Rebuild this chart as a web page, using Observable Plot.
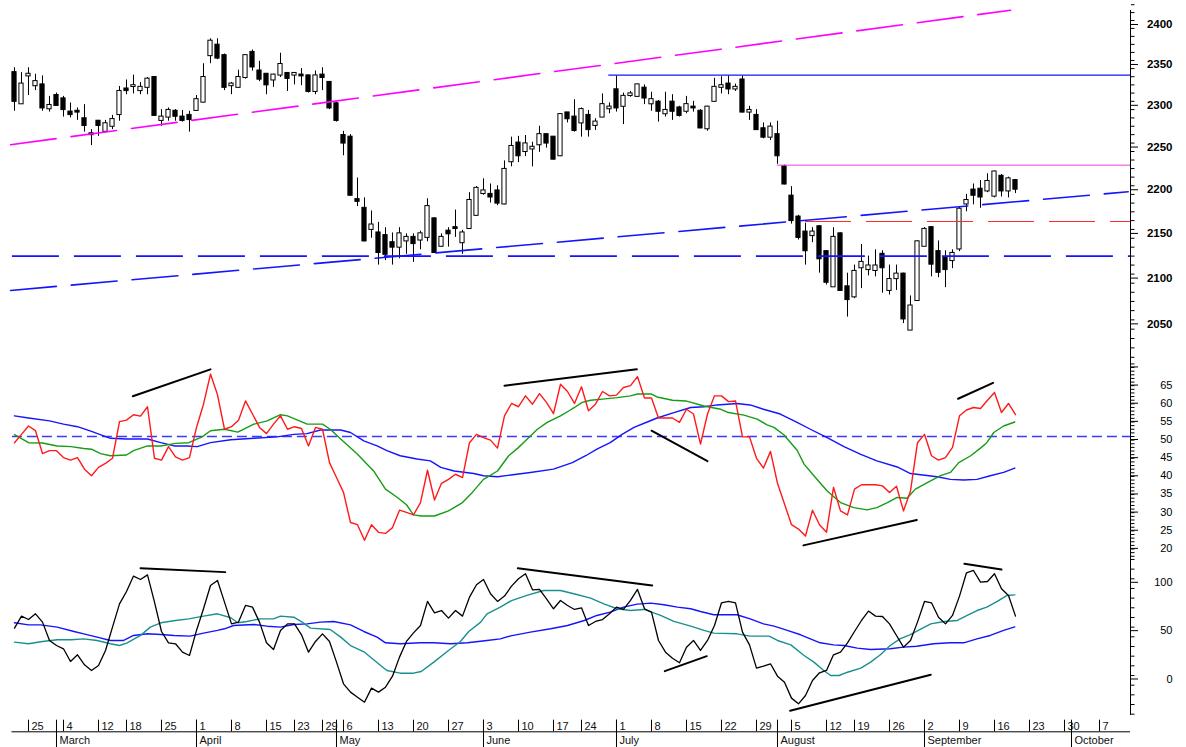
<!DOCTYPE html>
<html><head><meta charset="utf-8">
<script src="https://cdn.jsdelivr.net/npm/d3@7"></script>
<script src="https://cdn.jsdelivr.net/npm/@observablehq/plot@0.6"></script>
<style>
html,body{margin:0;padding:0;background:#fff;overflow:hidden}
#chart svg{display:block}
</style></head><body><div id="chart"></div>
<script>
// ---------- price data (trading-day index 0..143) ----------
const opens = [2335,2297,2331,2319,2320,2291,2307,2303,2287,2288,
2279,2261,2276,2264,2270,2284,2315,2318,2313,2317,
2329,2277,2281,2288,2281,2283,2289,2299,2356,2369,
2356,2319,2317,2329,2360,2337,2333,2326,2332,2334,
2332,2332,2331,2312,2332,2323,2297,2259,2257,2184,
2174,2150,2146,2143,2135,2130,2137,2141,2138,2141,
2162,2131,2148,2152,2135,2151,2166,2191,2190,2194,
2179,2228,2250,2240,2243,2248,2260,2257,2235,2286,
2281,2274,2283,2271,2281,2291,2314,2294,2307,2306,
2316,2297,2299,2285,2299,2292,2288,2293,2288,2267,
2300,2317,2321,2315,2326,2287,2283,2267,2257,2260,
2222,2188,2164,2147,2143,2153,2125,2086,2145,2086,
2075,2107,2105,2104,2122,2082,2095,2100,2039,2071,
2131,2152,2125,2118,2115,2128,2179,2195,2196,2194,
2188,2211,2194,2206];
const highs = [2341,2335,2341,2333,2331,2306,2310,2306,2298,2292,
2296,2266,2277,2277,2283,2318,2326,2332,2323,2329,
2330,2290,2292,2290,2289,2288,2307,2346,2377,2377,
2358,2323,2338,2356,2363,2349,2334,2333,2359,2335,
2335,2340,2332,2337,2341,2323,2299,2264,2260,2209,
2186,2171,2158,2152,2146,2152,2145,2145,2148,2185,
2163,2145,2152,2172,2149,2192,2199,2208,2202,2200,
2229,2257,2258,2259,2251,2270,2260,2257,2285,2286,
2302,2292,2289,2279,2309,2298,2331,2310,2312,2321,
2320,2311,2301,2311,2308,2294,2306,2300,2290,2294,
2328,2330,2331,2321,2331,2294,2290,2274,2274,2276,
2224,2199,2166,2157,2152,2154,2126,2152,2146,2101,
2110,2133,2120,2127,2126,2110,2110,2101,2076,2137,
2152,2153,2137,2126,2127,2176,2190,2202,2206,2214,
2217,2213,2210,2207];
const lows = [2288,2297,2307,2313,2288,2287,2294,2281,2280,2277,
2263,2247,2258,2262,2266,2276,2308,2309,2308,2308,
2282,2270,2276,2276,2275,2263,2288,2298,2346,2351,
2313,2308,2316,2327,2337,2324,2308,2317,2329,2312,
2320,2319,2310,2308,2313,2290,2275,2235,2188,2176,
2136,2140,2110,2115,2110,2117,2122,2113,2127,2136,
2123,2130,2130,2141,2122,2150,2165,2189,2180,2177,
2178,2222,2227,2234,2222,2239,2244,2230,2234,2274,
2263,2257,2257,2265,2281,2285,2287,2272,2305,2305,
2296,2288,2275,2281,2277,2281,2285,2287,2267,2264,
2299,2309,2308,2312,2286,2277,2265,2255,2253,2225,
2201,2156,2138,2110,2135,2101,2088,2086,2081,2053,
2073,2084,2098,2097,2079,2077,2082,2046,2039,2070,
2131,2097,2096,2085,2106,2125,2170,2178,2174,2192,
2186,2187,2186,2191];
const closes = [2300,2321,2333,2324,2292,2295,2295,2290,2284,2287,
2271,2260,2271,2273,2278,2312,2313,2319,2317,2327,
2283,2281,2289,2282,2277,2278,2302,2329,2374,2353,
2317,2321,2329,2356,2342,2327,2320,2332,2345,2328,
2334,2331,2312,2331,2329,2292,2277,2250,2189,2182,
2137,2155,2124,2122,2130,2145,2141,2134,2145,2176,
2124,2141,2145,2151,2146,2183,2197,2194,2187,2180,
2219,2246,2235,2249,2245,2260,2250,2231,2284,2279,
2265,2290,2266,2275,2296,2293,2292,2306,2309,2320,
2304,2302,2288,2289,2288,2283,2296,2292,2268,2293,
2317,2319,2315,2317,2287,2289,2266,2257,2269,2235,
2202,2160,2141,2126,2147,2117,2091,2141,2082,2072,
2103,2113,2109,2109,2107,2094,2100,2051,2065,2136,
2150,2111,2102,2105,2123,2173,2183,2189,2187,2205,
2216,2194,2208,2196];

// price panel reference lines [index, price]
const upperChannel = [[-0.57, 2248], [142.3, 2413]];
const lowerChannel = [[-0.57, 2082], [159.1, 2193]];
const supportLevel = 2120;
const resistanceLevel = 2332;
const pinkLevel = 2224;
const redLevel = 2159;

// ---------- oscillator 1 (0..143) ----------
const rsi = [48.3,50.6,52.9,51.6,45.3,46.1,46.1,44.2,43.5,44.2,
41.0,39.2,41.5,42.6,44.0,54.1,54.5,56.0,55.6,58.2,
44.0,43.5,47.2,44.4,43.5,44.2,52.5,58.9,67.2,61.5,
52.0,52.7,54.5,59.8,56.2,52.5,50.8,53.4,55.7,52.0,
52.7,52.2,47.4,52.5,52.0,42.8,38.7,34.6,26.3,25.7,
21.4,25.7,23.6,23.3,24.9,29.7,29.1,28.4,31.8,40.7,
32.5,37.1,38.2,39.6,38.7,48.3,50.6,49.7,49.0,46.8,
55.7,59.1,58.2,61.2,58.9,61.8,59.4,56.3,64.4,62.4,
59.1,63.7,57.1,58.9,62.4,61.2,61.4,63.5,64.0,66.5,
60.6,60.6,55.1,55.1,55.1,53.9,57.5,56.2,47.9,56.2,
61.2,61.2,59.6,59.8,49.9,49.9,44.0,41.3,45.9,37.1,
31.4,25.7,24.5,22.6,29.7,25.7,23.6,36.0,29.5,28.4,
35.5,36.7,36.7,36.7,36.4,34.6,36.3,29.5,35.0,48.3,
50.6,44.7,43.5,44.2,47.0,55.7,57.3,58.0,57.7,60.0,
62.1,56.6,59.1,56.0];
const rsiSignal = [[0,50.5],[2,48.3],[4,48.2],[6.1,47.4],[8.1,47.2],[9.9,46.7],[11,46.5],[12.3,45.3],[13.7,44.7],[16,44.9],[17,46.1],[19,47.4],[20.9,47.4],[23,48.1],[24.9,48.3],[26.8,49.9],[28,51.6],[30,52.0],[31.9,51.2],[34.2,53.4],[36.1,54.3],[38,56.0],[39,55.7],[41.8,53.4],[44,53.4],[45.1,52.0],[46.6,49.3],[49,45.1],[51.3,40.5],[53,35.5],[54.7,33.2],[56,31.2],[57,28.4],[58.1,28.1],[60,28.1],[62,29.5],[64,31.8],[65.4,34.6],[67,38.2],[69,40.5],[70.6,44.7],[71.9,46.8],[73,48.8],[74.7,52.0],[76.1,53.9],[78,55.7],[79.4,57.3],[80,58.0],[81.1,59.4],[82.3,60.0],[84,60.3],[86.1,60.7],[88,61.2],[89,61.7],[91,61.7],[91.8,60.9],[94,60.0],[95.9,59.8],[98.5,58.4],[100.9,57.5],[102,56.6],[104.2,55.9],[106.1,54.8],[107.5,53.2],[108.5,52.5],[109.9,50.5],[111.8,46.2],[112.8,42.4],[114.2,39.2],[116.1,35.0],[118,31.8],[119.9,30.4],[121.8,29.8],[123.2,30.4],[124.7,31.8],[126.1,33.2],[127.5,33.0],[128.7,35.5],[130.4,37.3],[132.3,39.2],[133.7,40.1],[134.9,42.8],[136.6,44.7],[138,46.8],[138.9,48.3],[139.9,51.1],[141.3,52.9],[142.9,54.0]];
const rsiSlow = [[0,55.7],[2,55.1],[5,54.3],[7,53.4],[9,52.7],[11,51.4],[13.7,49.5],[16,49.3],[19,49.3],[20.9,48.3],[22.8,47.4],[24.7,47.4],[26.1,47.2],[28,48.3],[30.9,49.1],[34.2,49.5],[37.5,49.9],[39.9,50.6],[41.8,50.8],[43.7,51.8],[46.6,51.8],[48,51.1],[49.9,48.8],[51.8,47.4],[53.2,46.1],[55.1,44.7],[57.5,43.8],[59.4,43.3],[60.9,41.5],[62.8,40.5],[65.6,39.8],[67,39.2],[69,38.9],[70.9,39.4],[73.7,40.1],[77,41.0],[79.7,42.8],[81.6,44.7],[83.2,46.5],[85.1,48.3],[86.8,50.6],[88.5,52.5],[90.4,54.0],[91.8,55.1],[94.2,56.6],[96.6,58.0],[98.5,58.2],[100.4,58.7],[103.2,59.1],[105.1,58.7],[107,57.5],[109.4,56.2],[111.8,53.9],[113.7,52.0],[116.1,49.7],[118.5,47.2],[120.9,45.1],[123.2,43.3],[126.1,41.6],[128,39.8],[131.8,38.9],[133.7,38.2],[135.6,38.0],[137.5,38.2],[139.4,39.2],[141.3,40.1],[142.9,41.3]];
const rsiTrends = [
  [[16.9,61.1],[28,68.5]],
  [[70,64.0],[88.9,68.5]],
  [[91,51.6],[99,43.2]],
  [[112.7,20.0],[128.9,27.0]],
  [[134.8,60.4],[139.8,64.8]]
];

// ---------- oscillator 2 (0..143) ----------
const stoch = [49.0,61.4,57.9,63.8,55.2,36.2,31.0,27.6,14.5,21.4,
11.0,5.2,10.3,25.9,50.0,74.1,86.9,102.8,99.3,104.1,
75.9,45.5,33.8,32.8,24.1,20.7,46.6,69.0,93.1,98.3,
75.9,53.4,55.2,72.4,70.7,55.2,33.8,26.9,46.6,53.4,
53.4,42.1,24.1,35.2,43.1,35.2,13.8,-8.6,-17.2,-22.4,
-27.6,-13.1,-17.2,-12.1,-0.7,19.0,35.2,44.1,51.7,76.6,
64.8,67.2,59.3,67.2,61.4,81.0,93.8,99.3,84.5,76.6,
82.1,92.4,100,105.2,88.6,89.0,79.3,69.0,77.6,72.4,
68.3,70.0,51.7,55.9,57.9,63.8,70.7,68.3,77.6,89.0,
69.0,65.5,36.2,24.1,17.9,13.1,29.3,36.2,25.9,36.2,
51.7,75.2,76.6,75.2,44.8,31.7,7.6,9.7,12.1,-0.7,
-6.9,-23.4,-29.3,-20.7,-5.2,2.8,5.2,21.4,24.1,33.8,
45.5,56.9,66.6,61.4,61.0,53.4,41.4,29.3,36.2,55.2,
76.6,75.2,60.3,53.4,62.1,82.1,106.2,108.6,96.6,97.2,
105.2,89.7,82.8,61.4];
const stochSignal = [[0,34.5],[2,32.8],[4,35.2],[6.1,36.9],[8.1,36.9],[9.9,37.9],[11.8,36.2],[13.7,32.8],[15,31.0],[16.1,33.8],[18,41.4],[19.4,50.0],[20.9,54.5],[23,56.9],[24.9,58.6],[27,61.4],[29,63.8],[30.9,59.7],[31.9,54.5],[33.2,55.9],[35.1,58.6],[37,58.6],[38,61.4],[39.9,60.3],[41.1,55.2],[42.3,49.0],[45.1,47.6],[46.6,39.7],[48,31.0],[50,24.1],[52,12.1],[53.2,5.2],[55.1,2.4],[57,2.4],[58.1,4.1],[59.9,13.8],[62,25.9],[63.7,35.2],[64.9,45.5],[66.6,55.2],[67.5,63.8],[69.4,70.7],[71,77.5],[73.2,82.8],[75.6,87.9],[78,87.9],[79.9,84.5],[82.3,80.0],[84.2,74.1],[86.1,69.0],[88,67.2],[89.9,68.3],[92.3,62.1],[94.2,55.9],[96.6,51.0],[98.5,46.6],[99.9,43.8],[103.2,43.1],[105.1,40.7],[107.8,40.7],[109,36.2],[110.9,31.7],[112.8,20.7],[114.2,13.8],[115.6,5.2],[116.6,0],[117.8,0],[119,3.4],[120.9,7.6],[122.3,13.8],[123.7,21.4],[125.1,31.0],[126.5,37.9],[127.9,42.1],[129.4,47.6],[130.9,53.4],[132.8,55.9],[134.7,56.9],[136.1,62.1],[137.5,67.2],[138.9,70.7],[140.4,76.6],[141.8,82.8],[142.9,83.4]];
const stochSlow = [[0,54.5],[2,52.4],[3.7,52.4],[6.1,50.0],[8.5,45.5],[9.9,43.1],[11.8,39.7],[13.7,36.2],[15.6,36.2],[17,41.4],[19,43.1],[20.9,42.4],[22.8,41.4],[25.1,40.7],[27,43.8],[29,46.6],[30,48.3],[31.3,51.7],[34.2,52.8],[36.1,51.0],[38,50.0],[39.9,52.8],[41.8,53.4],[43.7,55.2],[45.6,55.9],[48,52.4],[49.9,45.5],[51.8,39.7],[53,33.8],[55.1,32.8],[58,33.8],[59.9,33.8],[62.3,32.8],[64.7,33.8],[67.5,36.2],[69.4,37.9],[70.9,41.0],[73.7,44.8],[76.6,48.3],[79,51.7],[81.4,56.9],[83.2,62.1],[85.1,65.5],[87,70.7],[88.95,73.8],[90.9,74.8],[92.8,73.1],[94.7,70.7],[96.6,69.0],[98,66.2],[99.9,62.8],[103.2,62.8],[105.1,58.6],[107,53.4],[108.5,51.0],[110.4,46.6],[112.3,42.1],[113.7,37.9],[115.1,33.8],[117,31.7],[118.5,31.0],[120.4,28.3],[122.3,26.9],[125.1,27.6],[127,29.3],[128.9,30.3],[131.3,32.8],[133.7,33.8],[135.6,33.8],[137.5,37.9],[139.4,41.4],[141.3,46.6],[142.9,50.3]];
const stochTrends = [
  [[18,111.0],[30.1,106.9]],
  [[71.9,111.0],[91.1,93.1]],
  [[92.9,4.5],[98.9,20.0]],
  [[110.8,-36.5],[130.9,0.7]],
  [[135.7,115.5],[141,109.6]]
];

// ---------- time axis ----------
const weekTicks = [[2,"25"],[7,"4"],[12,"12"],[16,"18"],[21,"25"],[26,"1"],[31,"8"],[36,"15"],[40,"23"],[44,"29"],[47,"6"],[52,"13"],[57,"20"],[62,"27"],[67,"3"],[72,"10"],[77,"17"],[81,"24"],[86,"1"],[91,"8"],[96,"15"],[101,"22"],[106,"29"],[111,"5"],[116,"12"],[120,"19"],[125,"26"],[130,"2"],[135,"9"],[140,"16"],[145,"23"],[150,"30"],[155,"7"]];
const monthTicks = [[6,"March"],[26,"April"],[46,"May"],[67,"June"],[86,"July"],[109,"August"],[130,"September"],[151,"October"]];
const priceMajor = d3.range(2050, 2401, 50);
const priceMinor = d3.range(2010, 2421, 10);
const rsiMajor = d3.range(20, 71, 5);
const rsiMinor = d3.range(17, 71, 1);
const stochMajor = [0, 50, 100];
const stochMinor = d3.range(-40, 121, 10);

// ---------- drawing ----------
const FONT = "'Liberation Sans', Arial, Helvetica, sans-serif";
const X_END = 159.43;
const BLUE = "#1414ff";
const candles = opens.map((o, i) => ({i, open: o, high: highs[i], low: lows[i], close: closes[i]}));
const common = {
  width: 1186, marginLeft: 0, marginRight: 56, marginTop: 0, marginBottom: 0,
  x: {domain: [-2, X_END], axis: null},
  color: {type: "identity"},
  style: {fontFamily: FONT, background: "white", overflow: "visible"}
};
const px = d => d[0], py = d => d[1];

const pricePlot = Plot.plot({
  ...common, height: 362,
  y: {type: "log", domain: [2004.5, 2425.4], label: null},
  marks: [
    Plot.ruleX(candles, {x: "i", y1: "low", y2: "high", stroke: "black", strokeWidth: 1}),
    Plot.rect(candles, {x1: d => d.i - 0.3, x2: d => d.i + 0.3, y1: "open", y2: "close",
      fill: d => d.close >= d.open ? "white" : "black", stroke: "black", strokeWidth: 1,
      insetTop: -0.5, insetBottom: -0.5}),
    Plot.line(upperChannel, {x: px, y: py, stroke: "#ff00ff", strokeWidth: 1.6, strokeDasharray: "46,15"}),
    Plot.line(lowerChannel, {x: px, y: py, stroke: BLUE, strokeWidth: 1.6, strokeDasharray: "46,15"}),
    Plot.ruleY([supportLevel], {x1: -0.3, x2: X_END, stroke: BLUE, strokeWidth: 1.6, strokeDasharray: "47,15"}),
    Plot.ruleY([resistanceLevel], {x1: 84.9, x2: X_END, stroke: BLUE, strokeWidth: 1.3}),
    Plot.ruleY([pinkLevel], {x1: 109, x2: X_END, stroke: "#e040e0", strokeWidth: 1}),
    Plot.ruleY([redLevel], {x1: 113, x2: X_END, stroke: "#ff2a2a", strokeWidth: 1, strokeDasharray: "46,15"}),
    Plot.ruleX([X_END], {y1: 2412.7, y2: 2004.5, stroke: "black", strokeWidth: 1}),
    Plot.axisY({anchor: "right", ticks: priceMinor, tickSize: 3.5, tickFormat: () => "", label: null}),
    Plot.axisY({anchor: "right", ticks: priceMajor, tickSize: 7, tickPadding: 35, textAnchor: "end",
      fontWeight: "bold", fontSize: 11.5, dy: 4, tickFormat: d => String(d), label: null})
  ]
});

const rsiPlot = Plot.plot({
  ...common, height: 194,
  y: {domain: [16.94, 70.39], label: null},
  marks: [
    Plot.ruleY([50], {x1: -0.3, x2: X_END, stroke: "#3a3aff", strokeWidth: 1.5, strokeDasharray: "10,5"}),
    Plot.line(rsiSlow, {x: px, y: py, stroke: BLUE, strokeWidth: 1.4}),
    Plot.line(rsiSignal, {x: px, y: py, stroke: "#169c16", strokeWidth: 1.4}),
    Plot.line(rsi.map((v, i) => [i, v]), {x: px, y: py, stroke: "#ff1a1a", strokeWidth: 1.4}),
    ...rsiTrends.map(t => Plot.line(t, {x: px, y: py, stroke: "black", strokeWidth: 2})),
    Plot.ruleX([X_END], {stroke: "black", strokeWidth: 1}),
    Plot.axisY({anchor: "right", ticks: rsiMinor, tickSize: 3.5, tickFormat: () => "", label: null}),
    Plot.axisY({anchor: "right", ticks: rsiMajor, tickSize: 7, tickPadding: 35, textAnchor: "end",
      fontSize: 11, dy: 3, tickFormat: d => d === 70 ? "" : String(d), label: null})
  ]
});

const stochPlot = Plot.plot({
  ...common, height: 159,
  y: {domain: [-41.37, 123.06], label: null},
  marks: [
    Plot.line(stochSlow, {x: px, y: py, stroke: BLUE, strokeWidth: 1.4}),
    Plot.line(stochSignal, {x: px, y: py, stroke: "#1a8f8f", strokeWidth: 1.4}),
    Plot.line(stoch.map((v, i) => [i, v]), {x: px, y: py, stroke: "black", strokeWidth: 1.3}),
    ...stochTrends.map(t => Plot.line(t, {x: px, y: py, stroke: "black", strokeWidth: 2})),
    Plot.ruleX([X_END], {stroke: "black", strokeWidth: 1}),
    Plot.axisY({anchor: "right", ticks: stochMinor, tickSize: 3.5, tickFormat: () => "", label: null}),
    Plot.axisY({anchor: "right", ticks: stochMajor, tickSize: 7, tickPadding: 35, textAnchor: "end",
      fontSize: 11, dy: 3.5, tickFormat: d => String(d), label: null})
  ]
});

const timeAxis = Plot.plot({
  ...common, height: 32,
  y: {domain: [0, 32], range: [0, 32], axis: null},
  marks: [
    Plot.ruleY([16.3], {x1: -0.36, x2: X_END, stroke: "black", strokeWidth: 1}),
    Plot.ruleX(weekTicks, {x: px, y1: 4.7, y2: 16.3, stroke: "black", strokeWidth: 1}),
    Plot.text(weekTicks, {x: px, y: 11, text: py, textAnchor: "start", dx: 3, fontSize: 11, fill: "#111"}),
    Plot.ruleX(monthTicks, {x: px, y1: 4.7, y2: 32, stroke: "black", strokeWidth: 1}),
    Plot.text(monthTicks, {x: px, y: 25.3, text: py, textAnchor: "start", dx: 3, fontSize: 11, fill: "#111"})
  ]
});

const root = document.getElementById("chart");
[pricePlot, rsiPlot, stochPlot, timeAxis].forEach(p => root.appendChild(p));
</script></body></html>
